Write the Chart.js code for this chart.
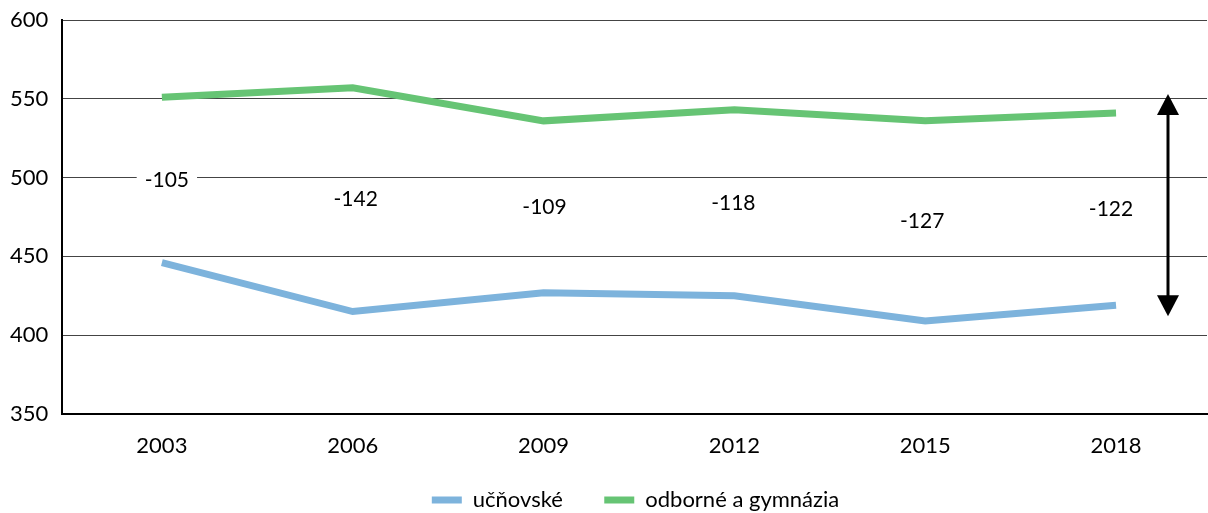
<!DOCTYPE html>
<html>
<head>
<meta charset="utf-8">
<script src="https://cdn.jsdelivr.net/npm/chart.js@4/dist/chart.umd.min.js"></script>
<style>
  html, body { margin: 0; padding: 0; background: #fff; }
  #wrap { width: 1208px; height: 513px; }
</style>
</head>
<body>
<div id="wrap"><canvas id="chart"></canvas></div>
<script>
// Data
const years = [2003, 2006, 2009, 2012, 2015, 2018];
const ucnovske = [446, 415, 427, 425, 409, 419];
const odborne = [551, 557, 536, 543, 536, 541];
const gapLabels = ['-105', '-142', '-109', '-118', '-127', '-122'];
const yTicks = [350, 400, 450, 500, 550, 600];

// Arrow span (value units) at the right
const ARROW_TOP = 553;
const ARROW_BOTTOM = 412;

const FONT = 'Lato, "Open Sans", sans-serif';

// Gap labels drawn between the two lines + the double arrow
const gapLabelPlugin = {
  id: 'gapLabels',
  afterLayout(chart) {
    // nudge legend like the original
    chart.legend.left += 27;
    chart.legend.right += 27;
    chart.legend.top += 8;
    chart.legend.bottom += 8;
  },
  afterDatasetsDraw(chart) {
    const { ctx, scales } = chart;
    ctx.save();
    ctx.font = '21px ' + FONT;
    ctx.textAlign = 'center';
    ctx.textBaseline = 'middle';
    years.forEach((yr, i) => {
      // labels drift slightly left across the chart in the original
      const x = scales.x.getPixelForValue(yr) + 5 - 2 * i;
      const y = scales.y.getPixelForValue((ucnovske[i] + odborne[i]) / 2);
      const w = ctx.measureText(gapLabels[i]).width;
      ctx.fillStyle = '#fff';
      ctx.fillRect(x - w / 2 - 8, y - 12, w + 16, 24);
      ctx.fillStyle = '#000';
      ctx.fillText(gapLabels[i], x, y);
    });

    const ax = 1168;
    const top = scales.y.getPixelForValue(ARROW_TOP);
    const bot = scales.y.getPixelForValue(ARROW_BOTTOM);
    ctx.strokeStyle = '#000';
    ctx.fillStyle = '#000';
    ctx.lineWidth = 3;
    ctx.beginPath();
    ctx.moveTo(ax, top + 15);
    ctx.lineTo(ax, bot - 15);
    ctx.stroke();
    ctx.beginPath();
    ctx.moveTo(ax, top);
    ctx.lineTo(ax - 11, top + 21);
    ctx.lineTo(ax + 11, top + 21);
    ctx.closePath();
    ctx.fill();
    ctx.beginPath();
    ctx.moveTo(ax, bot);
    ctx.lineTo(ax - 11, bot - 21);
    ctx.lineTo(ax + 11, bot - 21);
    ctx.closePath();
    ctx.fill();
    ctx.restore();
  }
};

const ctx = document.getElementById('chart').getContext('2d');
const chart = new Chart(ctx, {
  type: 'line',
  data: {
    datasets: [{
      label: 'učňovské',
      data: years.map((yr, i) => ({ x: yr, y: ucnovske[i] })),
      borderColor: '#7db3dc',
      backgroundColor: '#7db3dc',
      borderWidth: 7,
      pointRadius: 0,
      tension: 0
    }, {
      label: 'odborné a gymnázia',
      data: years.map((yr, i) => ({ x: yr, y: odborne[i] })),
      borderColor: '#66c474',
      backgroundColor: '#66c474',
      borderWidth: 7,
      pointRadius: 0,
      tension: 0
    }]
  },
  options: {
    responsive: true,
    maintainAspectRatio: false,
    animation: false,
    layout: { padding: { top: 20, right: 1, left: 10, bottom: 0 } },
    plugins: {
      legend: {
        position: 'bottom',
        labels: {
          boxWidth: 30,
          boxHeight: 7,
          padding: 2,
          color: '#000',
          font: { family: FONT, size: 22 },
          generateLabels(chart) {
            return chart.data.datasets.map((ds, i) => ({
              text: i === 0 ? ds.label + '       ' : ds.label,
              fillStyle: ds.borderColor,
              strokeStyle: ds.borderColor,
              lineWidth: 0,
              datasetIndex: i
            }));
          }
        }
      },
      tooltip: { enabled: false }
    },
    scales: {
      x: {
        type: 'linear',
        min: 2001.43,
        max: 2019.43,
        afterBuildTicks(scale) {
          scale.ticks = years.map(v => ({ value: v }));
        },
        afterFit(scale) { scale.height = 65; },
        grid: { display: false, drawTicks: false },
        border: { color: '#000', width: 2 },
        ticks: {
          color: '#000',
          padding: 19,
          font: { family: FONT, size: 22 },
          callback: v => String(v)
        }
      },
      y: {
        min: 350,
        max: 600,
        afterBuildTicks(scale) {
          scale.ticks = yTicks.map(v => ({ value: v }));
        },
        afterFit(scale) { scale.width = 52; },
        grid: { color: '#444', lineWidth: 1, drawTicks: false },
        border: { color: '#000', width: 2 },
        ticks: {
          color: '#000',
          padding: 0,
          crossAlign: 'far',
          font: { family: FONT, size: 22 }
        }
      }
    }
  },
  plugins: [gapLabelPlugin]
});
</script>
</body>
</html>
